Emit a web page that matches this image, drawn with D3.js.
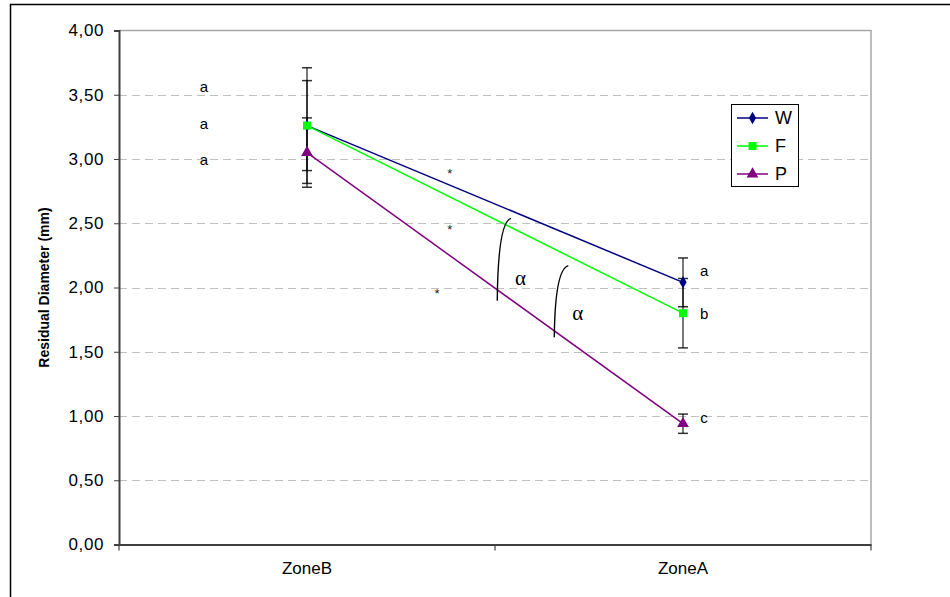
<!DOCTYPE html>
<html><head><meta charset="utf-8">
<script src="https://cdn.jsdelivr.net/npm/d3@7/dist/d3.min.js"></script>
<style>body{margin:0;background:#fff}svg{display:block}</style>
</head><body>
<script>
// ---- data ----
const categories = ["ZoneB", "ZoneA"];
const seriesNames = ["W", "F", "P"];
const valuesW = [3.26, 2.04];
const valuesF = [3.26, 1.80];
const valuesP = [3.05, 0.94];
const errW = [0.45, 0.19];
const errF = [0.35, 0.27];
const errP = [0.27, 0.075];
const yTicks = [0, 0.5, 1, 1.5, 2, 2.5, 3, 3.5, 4];
const yTickLabels = ["0,00","0,50","1,00","1,50","2,00","2,50","3,00","3,50","4,00"];
const yTitle = "Residual Diameter (mm)";
// annotations in data space (t: 0 = ZoneB, 1 = ZoneA; v: y value)
const letterLabels = [
  {t:-0.274, v:3.558, s:"a"}, {t:-0.274, v:3.265, s:"a"}, {t:-0.274, v:2.985, s:"a"},
  {t:1.056, v:2.123, s:"a"}, {t:1.056, v:1.791, s:"b"}, {t:1.056, v:0.982, s:"c"}
];
const stars = [{t:0.380, v:2.899}, {t:0.380, v:2.463}, {t:0.346, v:1.965}];
const alphas = [{t:0.568, v:2.066}, {t:0.720, v:1.794}];
const arcs = [
  {b:[0.506,1.897], c:[0.508,2.510], e:[0.5426,2.538]},
  {b:[0.6577,1.612], c:[0.6596,2.141], e:[0.695,2.170]}
];

const colors = {W:"#000080", F:"#00ff00", P:"#800080"};
const series = [
  {name:"W", values:valuesW, err:errW},
  {name:"F", values:valuesF, err:errF},
  {name:"P", values:valuesP, err:errP}
];

const W = 950, H = 597;
const svg = d3.select("body").append("svg").attr("width", W).attr("height", H);
const font = "'Liberation Sans', Arial, sans-serif";

// outer border
svg.append("rect").attr("x",10.5).attr("y",4.5).attr("width",980).attr("height",640)
  .attr("fill","none").attr("stroke","#000").attr("stroke-width",1.5);

const plot = {left:119, right:871, top:30.5, bottom:544.5};
const x = d3.scaleBand().domain(categories).range([plot.left, plot.right]);
const xc = c => x(c) + x.bandwidth()/2;
const xPos = d3.scaleLinear().domain([0,1]).range([xc(categories[0]), xc(categories[1])]);
const y = d3.scaleLinear().domain([0,4]).range([plot.bottom, plot.top]);

// gridlines
svg.append("g").selectAll("line").data(yTicks.filter(v => v > 0 && v < 4)).join("line")
  .attr("x1", plot.left).attr("x2", plot.right)
  .attr("y1", d => Math.round(y(d))+0.5).attr("y2", d => Math.round(y(d))+0.5)
  .attr("stroke","#c0c0c0").attr("stroke-width",1).attr("stroke-dasharray","8,5");
// top & right border of plot area
svg.append("path")
  .attr("d", `M${plot.left},${y(4)}H${plot.right}V${plot.bottom}`)
  .attr("fill","none").attr("stroke","#a8a8a8").attr("stroke-width",1.5);

// axes
const yAxis = d3.axisLeft(y).tickValues(yTicks).tickFormat((d,i) => yTickLabels[i]).tickSize(5).tickPadding(10);
const gy = svg.append("g").attr("transform",`translate(${plot.left},0)`).call(yAxis);
gy.select(".domain").attr("stroke","#404040").attr("stroke-width",2);
gy.selectAll(".tick line").attr("stroke","#404040");
gy.selectAll("text").attr("font-family",font).attr("font-size",17).attr("letter-spacing","0.6px").attr("fill","#000");

const xAxis = d3.axisBottom(x).tickSize(0).tickPadding(17);
const gx = svg.append("g").attr("transform",`translate(0,${plot.bottom})`).call(xAxis);
gx.select(".domain").attr("stroke","#404040").attr("stroke-width",2);
gx.selectAll("text").attr("font-family",font).attr("font-size",17).attr("fill","#000");
// category boundary ticks
const bounds = [plot.left, x(categories[1]), plot.right];
svg.append("g").selectAll("line").data(bounds).join("line")
  .attr("x1", d => d).attr("x2", d => d)
  .attr("y1", plot.bottom).attr("y2", plot.bottom + 6)
  .attr("stroke","#404040").attr("stroke-width",1.2);

// y title
svg.append("text").attr("transform",`translate(49,${(plot.top+plot.bottom)/2}) rotate(-90)`)
  .attr("text-anchor","middle").attr("font-family",font).attr("font-size",14)
  .attr("font-weight","bold").text(yTitle);

// error bars
const eb = svg.append("g");
series.forEach(s => {
  categories.forEach((c,i) => {
    const cx = xc(c), hi = y(s.values[i] + s.err[i]), lo = y(s.values[i] - s.err[i]);
    eb.append("line").attr("x1",cx).attr("x2",cx).attr("y1",hi).attr("y2",lo)
      .attr("stroke","#000").attr("stroke-opacity",0.7).attr("stroke-width",1.5);
    [hi, lo].forEach(yy => eb.append("line").attr("x1",cx-5).attr("x2",cx+5).attr("y1",yy).attr("y2",yy)
      .attr("stroke","#000").attr("stroke-opacity",0.8).attr("stroke-width",1.5));
  });
});

// lines
const line = d3.line().x((d,i) => xc(categories[i])).y(d => y(d));
series.forEach(s => {
  svg.append("path").datum(s.values).attr("d", line)
    .attr("fill","none").attr("stroke", colors[s.name]).attr("stroke-width",1.5);
});

// markers
const sym = {W: d3.symbolDiamond, F: d3.symbolSquare, P: d3.symbolTriangle};
const symSize = {W: 45, F: 64, P: 60};
function marker(g, name, cx, cy) {
  g.append("path").attr("d", d3.symbol().type(sym[name]).size(symSize[name])())
    .attr("transform",`translate(${cx},${cy})`).attr("fill", colors[name]);
}
const mk = svg.append("g");
series.forEach(s => s.values.forEach((v,i) => marker(mk, s.name, xc(categories[i]), y(v))));

// annotations
const ann = svg.append("g");
ann.selectAll("text.let").data(letterLabels).join("text").attr("class","let")
  .attr("x", d => xPos(d.t)).attr("y", d => y(d.v)).attr("dy","0.3em")
  .attr("text-anchor","middle").attr("font-family",font).attr("font-size",15).text(d => d.s);
ann.selectAll("text.star").data(stars).join("text").attr("class","star")
  .attr("x", d => xPos(d.t)).attr("y", d => y(d.v)).attr("dy","0.45em")
  .attr("text-anchor","middle").attr("font-family",font).attr("font-size",13).attr("fill","#222").text("*");
ann.selectAll("text.alpha").data(alphas).join("text").attr("class","alpha")
  .attr("x", d => xPos(d.t)).attr("y", d => y(d.v)).attr("dy","0.3em")
  .attr("text-anchor","middle").attr("font-family","'Liberation Serif', 'Times New Roman', serif").attr("font-size",21).text("α");
ann.selectAll("path.arc").data(arcs).join("path").attr("class","arc")
  .attr("d", d => `M${xPos(d.b[0])},${y(d.b[1])}Q${xPos(d.c[0])},${y(d.c[1])} ${xPos(d.e[0])},${y(d.e[1])}`)
  .attr("fill","none").attr("stroke","#000").attr("stroke-width",1.4);

// legend
const lg = svg.append("g");
lg.append("rect").attr("x",731.5).attr("y",104.5).attr("width",67).attr("height",82)
  .attr("fill","#fff").attr("stroke","#000").attr("stroke-width",1);
seriesNames.forEach((n,i) => {
  const yy = 118 + i*28;
  lg.append("line").attr("x1",737).attr("x2",768).attr("y1",yy).attr("y2",yy)
    .attr("stroke",colors[n]).attr("stroke-width",1.5);
  marker(lg, n, 752.5, yy);
  lg.append("text").attr("x",775).attr("y",yy).attr("dy","0.36em")
    .attr("font-family",font).attr("font-size",18).text(n);
});
</script>
</body></html>
